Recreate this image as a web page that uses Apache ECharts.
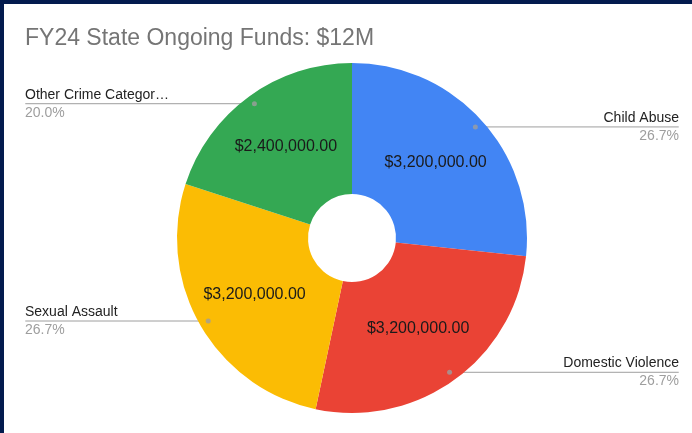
<!DOCTYPE html>
<html><head><meta charset="utf-8">
<script src="https://cdn.jsdelivr.net/npm/echarts@6/dist/echarts.min.js"></script>
<style>
html,body{margin:0;padding:0;width:692px;height:433px;background:#031b4e;overflow:hidden}
#chart{position:absolute;left:4px;top:4px;width:688px;height:429px;background:#fff}
</style></head><body><div id="chart"></div>
<script>
const titleText = 'FY24 State Ongoing Funds: $12M';
const categories = ['Child Abuse', 'Domestic Violence', 'Sexual Assault', 'Other Crime Categor\u2026'];
const values = [3200000, 3200000, 3200000, 2400000];
const colors = ['#4285f4', '#ea4335', '#fbbc04', '#34a853'];

const total = values.reduce((a, b) => a + b, 0);
const fmtMoney = v => '$' + v.toLocaleString('en-US', {minimumFractionDigits: 2, maximumFractionDigits: 2});
const fmtPct = v => (v / total * 100).toFixed(1) + '%';

let acc = 0;
const mids = values.map(v => { const m = acc + v / 2; acc += v; return m; });
const isLeft = mids.map(m => m / total > 0.5);

const CENTER = [348, 234];
const R_IN = 44, R_OUT = 175, R_DOT = 166;
const EDGE_R = 13, EDGE_L = 21;
const FONT = "'Liberation Sans', Arial, sans-serif";

const baseData = categories.map((c, i) => ({name: c, value: values[i]}));
const makeSideData = () => categories.map((c, i) => ({
  name: c, value: values[i],
  label: {edgeDistance: isLeft[i] ? EDGE_L : EDGE_R}
}));

const chart = echarts.init(document.getElementById('chart'), null, {renderer: 'canvas'});
chart.setOption({
  animation: false,
  title: {
    text: titleText, left: 21, top: 23, padding: 0,
    textStyle: {fontSize: 23, color: '#757575', fontWeight: 'normal', fontFamily: FONT}
  },
  polar: {center: CENTER, radius: R_OUT},
  angleAxis: {type: 'value', min: 0, max: total, startAngle: 90, clockwise: true, show: false},
  radiusAxis: {type: 'value', min: 0, max: R_OUT, show: false},
  series: [
    {
      type: 'pie', center: CENTER, radius: [R_IN, R_OUT], startAngle: 90, clockwise: true,
      silent: true, data: baseData,
      itemStyle: {color: p => colors[p.dataIndex], borderWidth: 0},
      label: {
        show: true, position: 'inside', formatter: p => fmtMoney(p.value),
        fontSize: 16, color: '#1a1a1a', fontFamily: FONT
      },
      labelLine: {show: false},
      labelLayout: {hideOverlap: false}
    },
    {
      type: 'pie', center: CENTER, radius: [0, R_DOT], startAngle: 90, clockwise: true,
      silent: true, data: makeSideData(),
      itemStyle: {color: 'rgba(0,0,0,0)'},
      label: {
        show: true, position: 'outside', alignTo: 'edge', formatter: '.',
        fontSize: 1, color: 'rgba(0,0,0,0)', padding: 0, distanceToLabelLine: 0
      },
      labelLine: {
        show: true, length: 0, length2: 1, minTurnAngle: 0, maxSurfaceAngle: 0,
        lineStyle: {color: '#9e9e9e', width: 1}
      },
      labelLayout: {hideOverlap: false}
    },
    {
      type: 'pie', center: CENTER, radius: [0, R_DOT], startAngle: 90, clockwise: true,
      silent: true, data: makeSideData(),
      itemStyle: {color: 'rgba(0,0,0,0)'},
      label: {
        show: true, position: 'outside', alignTo: 'edge', distanceToLabelLine: 0,
        formatter: p => '{n|' + p.name + '}\n{q|' + fmtPct(p.value) + '}',
        rich: {
          n: {fontSize: 14, color: '#222222', lineHeight: 18, fontFamily: FONT},
          q: {fontSize: 14, color: '#9e9e9e', lineHeight: 18, fontFamily: FONT}
        }
      },
      labelLine: {
        show: true, length: 0, length2: 1, minTurnAngle: 0, maxSurfaceAngle: 0,
        lineStyle: {color: 'rgba(0,0,0,0)', width: 0}
      },
      labelLayout: {hideOverlap: false}
    },
    {
      type: 'scatter', coordinateSystem: 'polar', silent: true,
      data: mids.map(m => [R_DOT, m]),
      symbol: 'circle', symbolSize: 5,
      itemStyle: {color: '#9e9e9e'}, z: 5
    }
  ]
});
</script></body></html>
